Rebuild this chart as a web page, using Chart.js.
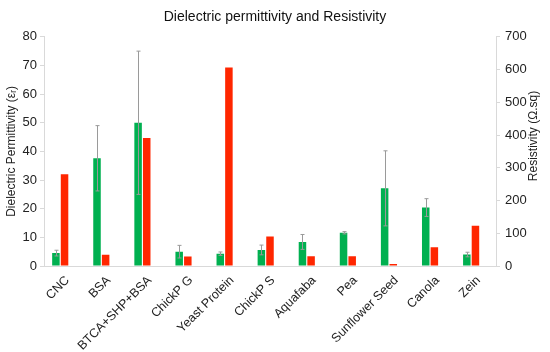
<!DOCTYPE html>
<html>
<head>
<meta charset="utf-8">
<script src="https://cdn.jsdelivr.net/npm/chart.js@4"></script>
<style>
    html, body { margin: 0; padding: 0; background: #ffffff; }
    #wrap { width: 550px; height: 352px; }
</style>
</head>
<body>
<div id="wrap"><canvas id="chart"></canvas></div>
<script>
// Chart data
const categories = ['CNC', 'BSA', 'BTCA+SHP+BSA', 'ChickP G', 'Yeast Protein', 'ChickP S',
    'Aquafaba', 'Pea', 'Sunflower Seed', 'Canola', 'Zein'];
const permittivity = [4.5, 37.6, 50, 5, 4.3, 5.6, 8.4, 11.6, 27.1, 20.4, 4];
const permittivityErr = [1, 11.4, 25, 2.2, 0.6, 1.7, 2.6, 0.4, 13.1, 3.1, 0.8];
const resistivity = [280, 34, 391, 29, 606, 90, 30, 30, 6, 57, 123];
const leftTicks = [0, 10, 20, 30, 40, 50, 60, 70, 80];
const rightTicks = [0, 100, 200, 300, 400, 500, 600, 700];

const FONT = '"Liberation Sans", Arial, Helvetica, sans-serif';
const axisGray = '#d9d9d9';

// Error bars on the permittivity bars
const errorBars = {
    id: 'errorBars',
    afterDatasetsDraw(chart) {
        const ctx = chart.ctx;
        const meta = chart.getDatasetMeta(0);
        const y = chart.scales.y;
        ctx.save();
        ctx.strokeStyle = '#9a9a9a';
        ctx.lineWidth = 1;
        meta.data.forEach((bar, i) => {
            const x = Math.round(bar.x) + 0.5;
            const top = y.getPixelForValue(permittivity[i] + permittivityErr[i]);
            const bottom = y.getPixelForValue(permittivity[i] - permittivityErr[i]);
            ctx.beginPath();
            ctx.moveTo(x, top);
            ctx.lineTo(x, bottom);
            ctx.moveTo(x - 2, top);
            ctx.lineTo(x + 2, top);
            ctx.moveTo(x - 2, bottom);
            ctx.lineTo(x + 2, bottom);
            ctx.stroke();
        });
        ctx.restore();
    }
};

// Right axis title reads bottom to top
const rightTitle = {
    id: 'rightTitle',
    afterDraw(chart) {
        const ctx = chart.ctx;
        ctx.save();
        ctx.translate(534, 136);
        ctx.rotate(-Math.PI / 2);
        ctx.font = '12px ' + FONT;
        ctx.fillStyle = '#222';
        ctx.textAlign = 'center';
        ctx.textBaseline = 'middle';
        ctx.fillText('Resistivity (Ω.sq)', 0, 0);
        ctx.restore();
    }
};

const ctx = document.getElementById('chart').getContext('2d');
new Chart(ctx, {
    type: 'bar',
    data: {
        labels: categories,
        datasets: [
            {
                label: 'Dielectric permittivity',
                data: permittivity,
                backgroundColor: '#00b050',
                yAxisID: 'y'
            },
            {
                label: 'Resistivity',
                data: resistivity,
                backgroundColor: '#ff2600',
                yAxisID: 'y1'
            },
            {
                // empty slot, as in the source chart
                label: '',
                data: [],
                yAxisID: 'y'
            }
        ]
    },
    options: {
        responsive: true,
        maintainAspectRatio: false,
        animation: false,
        categoryPercentage: 0.63,
        barPercentage: 0.87,
        layout: { padding: 0 },
        plugins: {
            legend: { display: false },
            tooltip: { enabled: false },
            title: {
                display: true,
                text: 'Dielectric permittivity and Resistivity',
                color: '#111',
                font: { family: FONT, size: 14, weight: 'normal' },
                padding: { top: 9, bottom: 11 }
            }
        },
        scales: {
            x: {
                grid: { display: true, drawOnChartArea: false, drawTicks: false, color: axisGray },
                border: { color: axisGray },
                ticks: {
                    color: '#222',
                    font: { family: FONT, size: 12.5 },
                    minRotation: 45,
                    maxRotation: 45,
                    padding: 7,
                    labelOffset: 3,
                    autoSkip: false
                },
                afterFit(scale) { scale.height = 86; }
            },
            y: {
                position: 'left',
                min: 0,
                max: 80,
                afterBuildTicks(scale) { scale.ticks = leftTicks.map(v => ({ value: v })); },
                grid: { drawOnChartArea: false, tickLength: 4, color: axisGray },
                border: { color: axisGray },
                ticks: { color: '#222', font: { family: FONT, size: 13 }, padding: 3 },
                title: {
                    display: true,
                    text: 'Dielectric Permittivity (εᵣ)',
                    color: '#222',
                    font: { family: FONT, size: 12 },
                    padding: { top: 4, bottom: 2 }
                },
                afterFit(scale) { scale.width = 44; }
            },
            y1: {
                position: 'right',
                min: 0,
                max: 700,
                afterBuildTicks(scale) { scale.ticks = rightTicks.map(v => ({ value: v })); },
                grid: { drawOnChartArea: false, tickLength: 4, color: axisGray },
                border: { color: axisGray },
                ticks: { color: '#222', font: { family: FONT, size: 13 }, padding: 5 },
                afterFit(scale) { scale.width = 54; }
            }
        }
    },
    plugins: [errorBars, rightTitle]
});
</script>
</body>
</html>
